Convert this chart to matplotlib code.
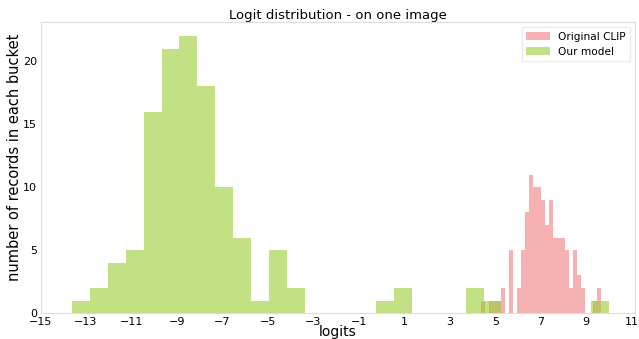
# Logit histogram: original CLIP vs our model on one image

import numpy as np
import matplotlib.pyplot as plt

# 30 buckets each, counts
clip_range = (4.37, 9.67)
clip_counts = [1, 0, 1, 1, 1, 2, 0, 5, 0, 2, 5, 8, 11, 10, 10,
               9, 7, 9, 6, 6, 6, 5, 2, 5, 3, 2, 0, 0, 1, 2]

ours_range = (-13.61, 9.99)
ours_counts = [1, 2, 4, 5, 16, 21, 22, 18, 10, 6, 1, 5, 2, 0, 0,
               0, 0, 1, 2, 0, 0, 0, 2, 1, 0, 0, 0, 0, 0, 1]

xticks = list(range(-15, 12, 2))

fig = plt.figure(figsize=(6.39, 3.39), dpi=100)
ax = fig.add_axes([0.0634, 0.0758, 0.9305, 0.859])

for rng, counts, color, alpha, label in [
    (clip_range, clip_counts, 'lightcoral', 0.6, 'Original CLIP'),
    (ours_range, ours_counts, 'yellowgreen', 0.6, 'Our model'),
]:
    edges = np.linspace(rng[0], rng[1], len(counts) + 1)
    centers = (edges[:-1] + edges[1:]) / 2
    ax.hist(centers, bins=edges, weights=counts, color=color, alpha=alpha, label=label)

ax.set_xlim(-15, 11.15)
ax.set_xticks(xticks)
ax.tick_params(length=0, labelsize=8, pad=2.5)

for s in ax.spines.values():
    s.set_color('#dddddd')
    s.set_linewidth(0.8)

ax.set_title('Logit distribution - on one image', fontsize=9.5, pad=2)
ax.set_xlabel('logits', fontsize=10, labelpad=-1.5)
ax.set_ylabel('number of records in each bucket', fontsize=10.5)
ax.yaxis.set_label_coords(-0.031, 0.535)

leg = ax.legend(loc='upper right', fontsize=7.6, handlelength=2.2,
                frameon=True, fancybox=False)
leg.get_frame().set_edgecolor('#e6e6e6')

plt.savefig("out.png", dpi=100)
plt.close(fig)
